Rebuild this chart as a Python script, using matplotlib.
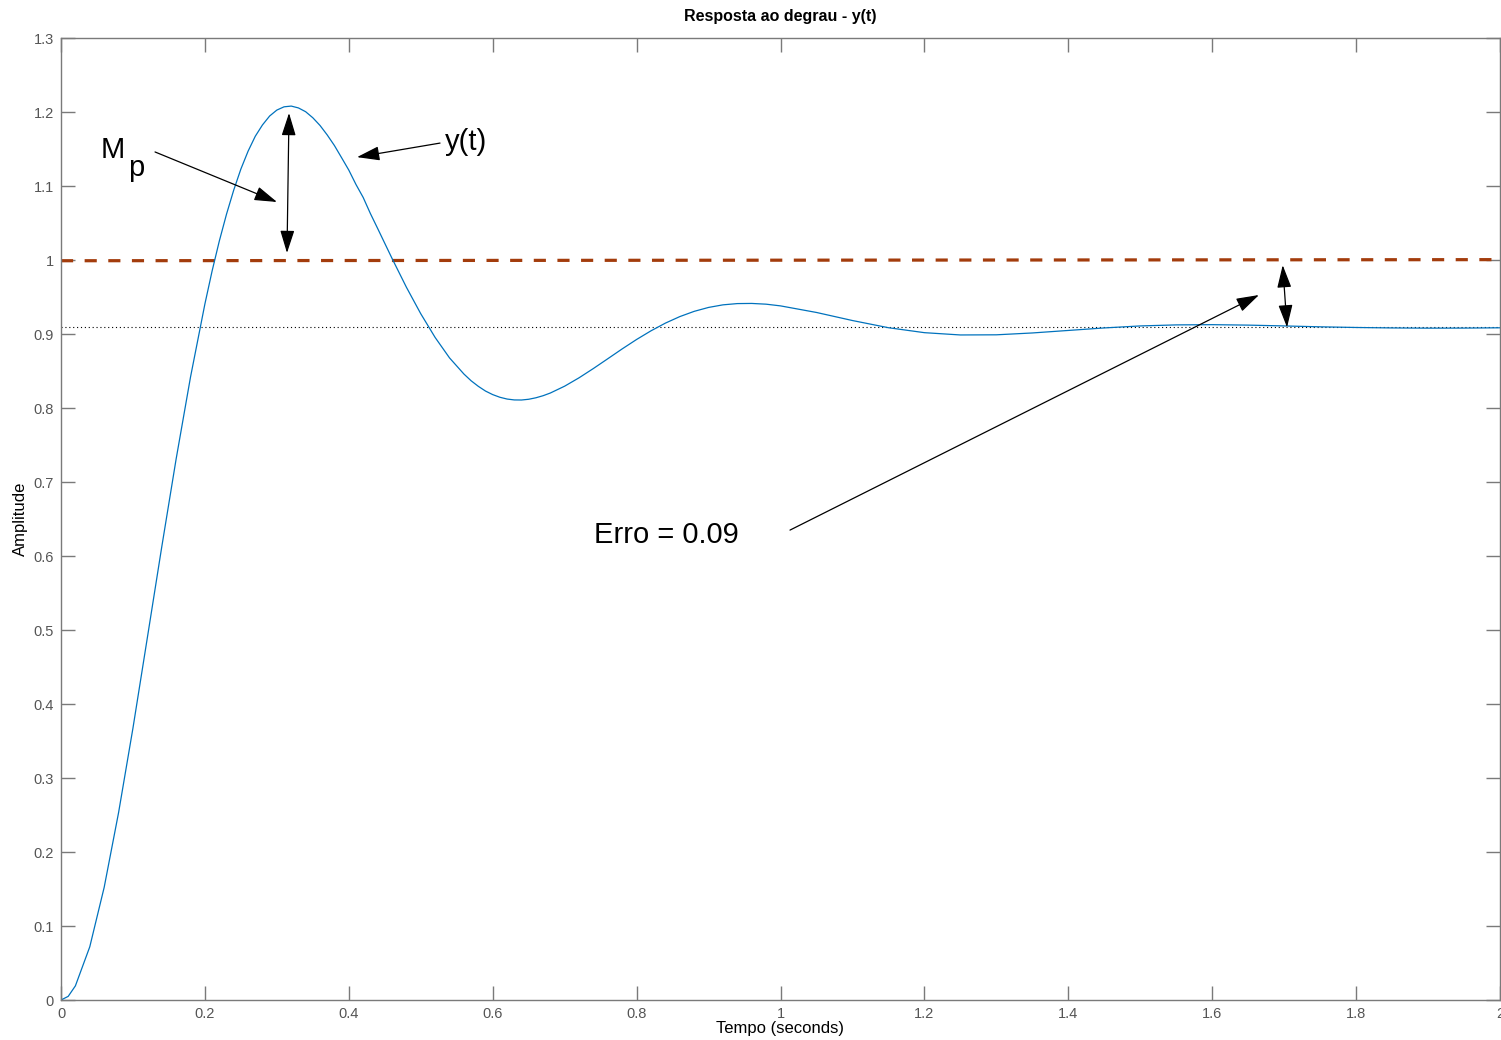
import numpy as np
import matplotlib.pyplot as plt

plt.rcParams['font.family'] = ['Liberation Sans', 'DejaVu Sans']

# DATA - step response
t_fine = [0.00, 0.01, 0.02, 0.04, 0.06, 0.08, 0.10, 0.12, 0.14, 0.16, 0.18,
          0.20, 0.21, 0.22, 0.23, 0.24, 0.25, 0.26, 0.27, 0.28, 0.29,
          0.30, 0.31, 0.32, 0.33, 0.34, 0.35, 0.36, 0.37, 0.38, 0.39,
          0.40, 0.41, 0.42, 0.43, 0.44, 0.46, 0.48, 0.50, 0.52, 0.54, 0.56, 0.57, 0.58, 0.59,
          0.60, 0.61, 0.62, 0.63, 0.64, 0.65, 0.66, 0.67, 0.68, 0.70, 0.72, 0.74, 0.76, 0.78,
          0.80, 0.82, 0.84, 0.86, 0.88, 0.90, 0.92, 0.94, 0.96, 0.98, 1.00]
y_fine = [0.0000, 0.0049, 0.0191, 0.0719, 0.1522, 0.2531, 0.3674, 0.4895, 0.6121, 0.7310, 0.8418,
          0.9406, 0.9851, 1.0255, 1.0618, 1.0943, 1.1229, 1.1470, 1.1672, 1.1825, 1.1946,
          1.2026, 1.2070, 1.2080, 1.2055, 1.2004, 1.1922, 1.1818, 1.1690, 1.1547, 1.1382,
          1.1215, 1.1020, 1.0845, 1.0628, 1.0428, 1.0023, 0.9633, 0.9274, 0.8953, 0.8677, 0.8459, 0.8368, 0.8293, 0.8229,
          0.8181, 0.8145, 0.8121, 0.8109, 0.8108, 0.8118, 0.8138, 0.8166, 0.8202, 0.8295, 0.8408, 0.8534, 0.8666, 0.8799,
          0.8926, 0.9043, 0.9147, 0.9235, 0.9306, 0.9359, 0.9394, 0.9411, 0.9413, 0.9403, 0.9380]
t_tail = [1.05, 1.10, 1.15, 1.20, 1.25, 1.30, 1.35, 1.40, 1.45, 1.50,
          1.55, 1.60, 1.65, 1.70, 1.75, 1.80, 1.85, 1.90, 1.95, 2.00]
y_tail = [0.9291, 0.9182, 0.9085, 0.9018, 0.8987, 0.8989, 0.9014, 0.9048, 0.9082, 0.9109,
          0.9123, 0.9126, 0.9120, 0.9109, 0.9097, 0.9088, 0.9082, 0.9079, 0.9080, 0.9084]

ref_t = [0.0, 2.0]
ref_y = [0.999, 1.0005]       # reference (dashed)
y_final = 0.909               # steady state (dotted)

x_ticks = [0, 0.2, 0.4, 0.6, 0.8, 1, 1.2, 1.4, 1.6, 1.8, 2]
x_labels = ['0', '0.2', '0.4', '0.6', '0.8', '1', '1.2', '1.4', '1.6', '1.8', '2']
y_ticks = [0, 0.1, 0.2, 0.3, 0.4, 0.5, 0.6, 0.7, 0.8, 0.9, 1, 1.1, 1.2, 1.3]
y_labels = ['0', '0.1', '0.2', '0.3', '0.4', '0.5', '0.6', '0.7', '0.8', '0.9', '1', '1.1', '1.2', '1.3']

t = np.array(t_fine + t_tail)
y = np.array(y_fine + y_tail)

fig = plt.figure(figsize=(15.01, 10.40), dpi=100)
ax = fig.add_axes([61/1501, 40/1040, 1439/1501, 962/1040])

ax.plot(ref_t, ref_y, color='#a33c0c', lw=2.3, dashes=(3.8, 3.6))
ax.plot(ref_t, [y_final, y_final], color='black', lw=0.8, ls=(0, (1, 2.5)))
ax.plot(t, y, color='#0072bd', lw=0.9)

ax.set_xlim(0, 2)
ax.set_ylim(0, 1.3)
ax.set_xticks(x_ticks)
ax.set_xticklabels(x_labels)
ax.set_yticks(y_ticks)
ax.set_yticklabels(y_labels)

gray = '#7a7a7a'
for s in ax.spines.values():
    s.set_color(gray)
    s.set_linewidth(1.0)
ax.tick_params(direction='in', length=10, width=1, color=gray, labelcolor='#555555',
               labelsize=10.5, top=True, right=True, pad=5)

ax.set_title('Resposta ao degrau - y(t)', fontsize=11.5, fontweight='bold', pad=12)
ax.set_xlabel('Tempo (seconds)', fontsize=12, labelpad=0)
ax.set_ylabel('Amplitude', fontsize=12, labelpad=4)

# annotations
arr = dict(arrowstyle='-|>,head_length=0.7,head_width=0.22', color='black', lw=0.9,
           mutation_scale=20, shrinkA=0, shrinkB=0)
arr2 = dict(arrowstyle='<|-|>,head_length=0.7,head_width=0.22', color='black', lw=0.9,
            mutation_scale=20, shrinkA=0, shrinkB=0)

ax.text(0.0556, 1.149, 'M', fontsize=21, va='center', ha='left')
ax.text(0.0930, 1.125, 'p', fontsize=21, va='center', ha='left')
ax.annotate('', xy=(0.3002, 1.0784), xytext=(0.1307, 1.146), arrowprops=arr)
ax.annotate('', xy=(0.3169, 1.1986), xytext=(0.3141, 1.0095), arrowprops=arr2)

ax.text(0.5337, 1.160, 'y(t)', fontsize=21, va='center', ha='left')
ax.annotate('', xy=(0.4114, 1.139), xytext=(0.5268, 1.158), arrowprops=arr)

ax.annotate('', xy=(1.698, 0.993), xytext=(1.704, 0.909), arrowprops=arr2)
ax.text(0.7408, 0.6280, 'Erro = 0.09', fontsize=21, va='center', ha='left')
ax.annotate('', xy=(1.665, 0.9527), xytext=(1.0132, 0.635), arrowprops=arr)

fig.savefig('out.png', dpi=100)
